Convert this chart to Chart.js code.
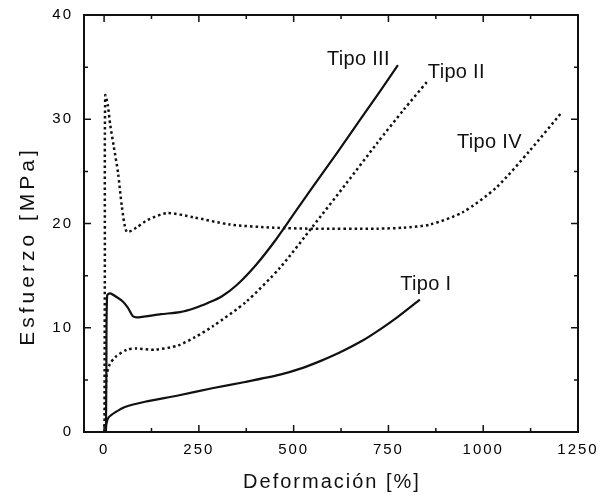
<!DOCTYPE html>
<html>
<head>
<meta charset="utf-8">
<script src="https://cdn.jsdelivr.net/npm/chart.js@4"></script>
<style>
  body { margin: 0; background: #fff; }
  canvas { display: block; }
</style>
</head>
<body>
<canvas id="chart" width="605" height="502"></canvas>
<script>
// deformacion [%] vs esfuerzo [MPa]
var xTicks = [0, 250, 500, 750, 1000, 1250];
var yTicks = [0, 10, 20, 30, 40];

var tipo1X = [4, 6, 12, 30, 55, 108, 195, 285, 372, 464, 520, 570, 620, 683, 730, 773, 833];
var tipo1Y = [0, 0.8, 1.4, 1.9, 2.4, 2.9, 3.5, 4.2, 4.8, 5.5, 6.1, 6.8, 7.6, 8.8, 9.9, 11.0, 12.7];

var tipo2X = [3, 4, 7, 15, 30, 60, 85, 135, 195, 240, 285, 375, 465, 550, 640, 720, 790, 852];
var tipo2Y = [0, 3, 5.5, 6.5, 7.2, 7.9, 8.0, 7.9, 8.3, 9.1, 10.1, 12.5, 15.8, 19.7, 23.9, 27.7, 30.9, 33.6];

var tipo3X = [5, 6, 8, 16, 35, 50, 63, 76, 90, 150, 200, 240, 275, 310, 350, 400, 450, 500, 550, 615, 680, 730, 775];
var tipo3Y = [0, 6, 13.1, 13.3, 12.9, 12.5, 11.9, 11.1, 11.0, 11.3, 11.5, 11.9, 12.4, 13.0, 14.1, 16.0, 18.3, 20.9, 23.5, 26.8, 30.2, 32.8, 35.2];

var tipo4X = [1, 2, 3, 10, 16, 25, 37, 47, 60, 85, 113, 166, 235, 332, 446, 550, 720, 790, 860, 947, 1036, 1123, 1208];
var tipo4Y = [0, 16, 32.3, 31.3, 29.5, 27.5, 24.8, 21.6, 19.2, 19.6, 20.3, 21.0, 20.6, 19.9, 19.6, 19.5, 19.5, 19.6, 19.9, 21.1, 23.5, 27.0, 30.7];

var names = ['Tipo I', 'Tipo II', 'Tipo III', 'Tipo IV'];
// where each name is written (data units, left/baseline)
var nameX = [781, 854, 588, 931];
var nameY = [13.6, 34.0, 35.2, 27.2];

function pts(xs, ys) {
    var out = [];
    for (var i = 0; i < xs.length; i++) out.push({ x: xs[i], y: ys[i] });
    return out;
}

var ink = '#111';
var family = '"Liberation Sans", Arial, sans-serif';

var frame = {
    id: 'frame',
    beforeLayout: function (chart) { chart.ctx.letterSpacing = '2px'; },
    beforeDraw: function (chart) { chart.ctx.letterSpacing = '2px'; },
    afterDraw: function (chart) {
        var ctx = chart.ctx, a = chart.chartArea;
        var xs = chart.scales.x, ys = chart.scales.y;
        ctx.save();
        ctx.strokeStyle = ink;
        ctx.lineWidth = 2;
        ctx.strokeRect(a.left, a.top, a.right - a.left, a.bottom - a.top);

        // inward ticks on all four sides
        ctx.lineWidth = 1.5;
        ctx.beginPath();
        var i, p, v;
        for (i = 0; i < xTicks.length; i++) {
            v = xTicks[i];
            p = xs.getPixelForValue(v);
            if (p > a.left + 2 && p < a.right - 2) {
                ctx.moveTo(p, a.bottom); ctx.lineTo(p, a.bottom - 7);
                ctx.moveTo(p, a.top); ctx.lineTo(p, a.top + 7);
            }
            if (i < xTicks.length - 1) {
                p = xs.getPixelForValue((v + xTicks[i + 1]) / 2);
                ctx.moveTo(p, a.bottom); ctx.lineTo(p, a.bottom - 4);
                ctx.moveTo(p, a.top); ctx.lineTo(p, a.top + 4);
            }
        }
        for (i = 0; i < yTicks.length; i++) {
            v = yTicks[i];
            p = ys.getPixelForValue(v);
            if (p > a.top + 2 && p < a.bottom - 2) {
                ctx.moveTo(a.left, p); ctx.lineTo(a.left + 7, p);
                ctx.moveTo(a.right, p); ctx.lineTo(a.right - 7, p);
            }
            if (i < yTicks.length - 1) {
                p = ys.getPixelForValue((v + yTicks[i + 1]) / 2);
                ctx.moveTo(a.left, p); ctx.lineTo(a.left + 4, p);
                ctx.moveTo(a.right, p); ctx.lineTo(a.right - 4, p);
            }
        }
        ctx.stroke();

        // axis titles
        ctx.fillStyle = ink;
        ctx.textAlign = 'center';
        ctx.textBaseline = 'alphabetic';
        ctx.font = '20px ' + family;
        ctx.letterSpacing = '2px';
        ctx.fillText('Deformación [%]', (a.left + a.right) / 2 + 1, 488);
        ctx.translate(34, 246);
        ctx.rotate(-Math.PI / 2);
        ctx.font = '21px ' + family;
        ctx.letterSpacing = '4px';
        ctx.fillText('Esfuerzo [MPa]', 0, 0);
        ctx.restore();
    },
    afterDatasetsDraw: function (chart) {
        var ctx = chart.ctx;
        var xs = chart.scales.x, ys = chart.scales.y;
        ctx.save();
        ctx.fillStyle = ink;
        ctx.font = '20px ' + family;
        ctx.letterSpacing = '0.3px';
        ctx.textAlign = 'left';
        ctx.textBaseline = 'alphabetic';
        for (var i = 0; i < names.length; i++) {
            ctx.fillText(names[i], xs.getPixelForValue(nameX[i]), ys.getPixelForValue(nameY[i]));
        }
        ctx.restore();
    }
};

function line(label, data, dotted) {
    return {
        label: label,
        data: data,
        showLine: true,
        borderColor: ink,
        borderWidth: dotted ? 2.5 : 2.2,
        borderDash: dotted ? [2.5, 3] : [],
        pointRadius: 0,
        tension: 0.25,
        fill: false
    };
}

function plain(v) { return String(v); }

new Chart(document.getElementById('chart'), {
    type: 'scatter',
    data: {
        datasets: [
            line('Tipo I', pts(tipo1X, tipo1Y), false),
            line('Tipo II', pts(tipo2X, tipo2Y), true),
            line('Tipo III', pts(tipo3X, tipo3Y), false),
            line('Tipo IV', pts(tipo4X, tipo4Y), true)
        ]
    },
    options: {
        responsive: false,
        animation: false,
        layout: { padding: { top: 15, right: 27, left: 0, bottom: 0 } },
        plugins: { legend: { display: false }, tooltip: { enabled: false } },
        scales: {
            x: {
                type: 'linear',
                min: -53,
                max: 1250,
                grid: { display: false, drawTicks: false },
                border: { display: false },
                ticks: { color: '#000', padding: 9, callback: plain, font: { size: 15, family: family } },
                afterBuildTicks: function (s) { s.ticks = xTicks.map(function (v) { return { value: v }; }); },
                afterFit: function (s) { s.height = 70; s.paddingLeft = 0; s.paddingRight = 0; }
            },
            y: {
                type: 'linear',
                min: 0,
                max: 40,
                grid: { display: false, drawTicks: false },
                border: { display: false },
                ticks: { color: '#000', padding: 11, callback: plain, font: { size: 15, family: family } },
                afterBuildTicks: function (s) { s.ticks = yTicks.map(function (v) { return { value: v }; }); },
                afterFit: function (s) { s.width = 84; s.paddingTop = 0; s.paddingBottom = 0; }
            }
        }
    },
    plugins: [frame]
});
</script>
</body>
</html>
